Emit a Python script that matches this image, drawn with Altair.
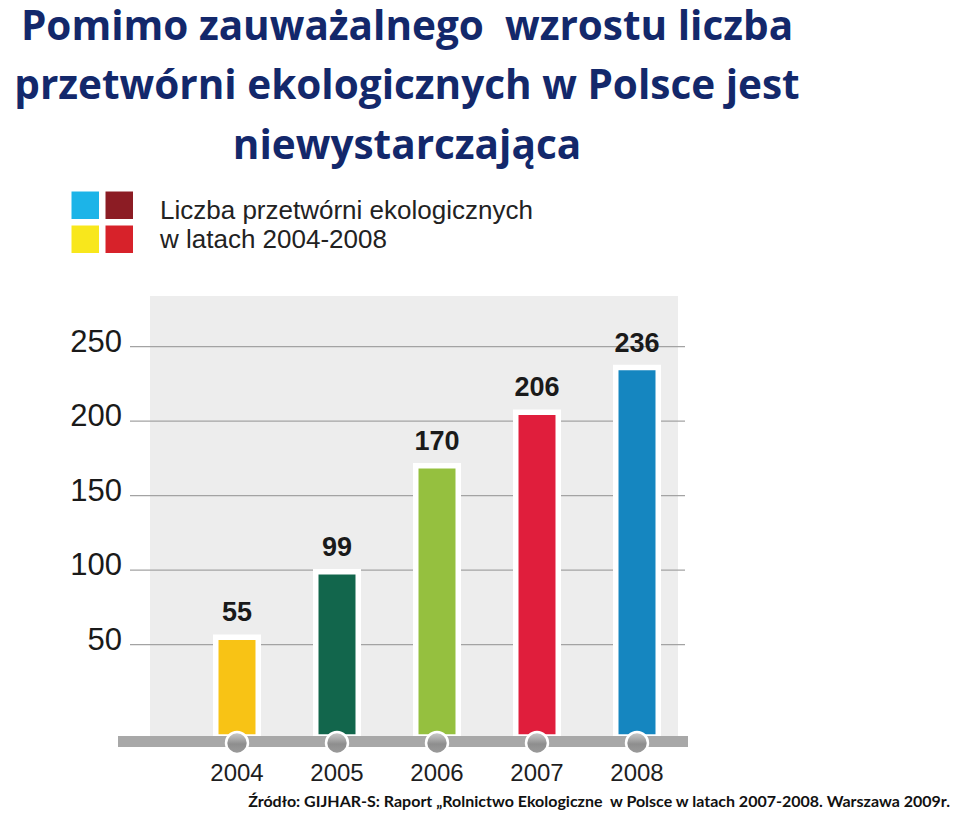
import altair as alt
import pandas as pd

# ---- data ----
years = ["2004", "2005", "2006", "2007", "2008"]
values = [55, 99, 170, 206, 236]
bar_colors = ["#f8c315", "#12664c", "#95c03f", "#e01e3c", "#1586c0"]
y_ticks = [50, 100, 150, 200, 250]
title_lines = ["Pomimo zauważalnego\u00a0 wzrostu liczba",
               "przetwórni ekologicznych w Polsce jest",
               "niewystarczająca"]
subtitle_lines = ["Liczba przetwórni ekologicznych", "w latach 2004-2008"]
logo_colors = ["#1cb4e8", "#8c1c24", "#f8e71c", "#d7222a"]
source_text = "Źródło: GIJHAR-S: Raport „Rolnictwo Ekologiczne\u00a0 w Polsce w latach 2007-2008. Warszawa 2009r."

df = pd.DataFrame({"year": years, "value": values, "color": bar_colors})
ticks_df = pd.DataFrame({"v": y_ticks})

# plot origin on page: (187, 296)
OX, OY = 187, 296
W, H = 500, 441
Y_DOMAIN = [-12, 284]

xenc = alt.X("year:N", scale=alt.Scale(paddingInner=0, paddingOuter=0), axis=None)
yscale = alt.Scale(domain=Y_DOMAIN, zero=False, nice=False)

one = pd.DataFrame({"a": [0]})

panel = alt.Chart(one).mark_rect(color="#ededed").encode(
    x=alt.value(150 - OX), x2=alt.value(678 - OX),
    y=alt.value(0), y2=alt.value(H))

grid = alt.Chart(ticks_df).mark_rule(color="#a3a3a3", strokeWidth=1.2).encode(
    y=alt.Y("v:Q", scale=yscale, axis=None),
    x=alt.value(130 - OX), x2=alt.value(685 - OX))

ylabels = alt.Chart(ticks_df).mark_text(
    font="Liberation Sans", fontSize=31, color="#1a1a1a",
    align="right", baseline="middle", dy=-4).encode(
    y=alt.Y("v:Q", scale=yscale, axis=None),
    x=alt.value(122 - OX), text="v:Q")

bars = alt.Chart(df).mark_bar(size=42.5, stroke="white", strokeWidth=5.5).encode(
    x=xenc,
    y=alt.Y("value:Q", scale=yscale, axis=None),
    y2=alt.datum(Y_DOMAIN[0]),
    fill=alt.Fill("color:N", scale=None))

labels = alt.Chart(df).mark_text(
    font="Liberation Sans", fontSize=27, fontWeight="bold", color="#1a1a1a",
    baseline="alphabetic", dy=-16).encode(
    x=xenc, y=alt.Y("value:Q", scale=yscale, axis=None), text="value:Q")

axis_bar = alt.Chart(one).mark_rect(color="#a8a8a8").encode(
    x=alt.value(118 - OX), x2=alt.value(688 - OX),
    y=alt.value(736 - OY), y2=alt.value(747 - OY))

knobs = alt.Chart(df).mark_point(
    filled=True, size=480, opacity=1, stroke="white", strokeWidth=2.5,
    fill=alt.Gradient(gradient="linear", x1=0, y1=0, x2=0, y2=1,
                      stops=[alt.GradientStop(color="#cfcfcf", offset=0),
                             alt.GradientStop(color="#8e8e8e", offset=0.55),
                             alt.GradientStop(color="#9c9c9c", offset=1)])).encode(
    x=xenc, y=alt.value(743 - OY))

year_labels = alt.Chart(df).mark_text(
    font="Liberation Sans", fontSize=24, color="#1e1e1e", baseline="alphabetic").encode(
    x=xenc, y=alt.value(781 - OY), text="year:N")

layers = [panel, grid, ylabels, bars, axis_bar, knobs, labels, year_labels]

# title lines
title_baselines = [40, 99, 159]
for line, yb in zip(title_lines, title_baselines):
    layers.append(alt.Chart(pd.DataFrame({"t": [line]})).mark_text(
        font="Open Sans", fontSize=40.5, fontWeight="bold", color="#13286b",
        align="center", baseline="alphabetic").encode(
        x=alt.value(407 - OX), y=alt.value(yb - OY), text="t:N"))

# subtitle lines
for i, line in enumerate(subtitle_lines):
    layers.append(alt.Chart(pd.DataFrame({"t": [line]})).mark_text(
        font="Liberation Sans", fontSize=26, color="#222222",
        align="left", baseline="alphabetic").encode(
        x=alt.value(160 - OX), y=alt.value(219 + 29 * i - OY), text="t:N"))

# logo squares
for i, c in enumerate(logo_colors):
    col, row = i % 2, i // 2
    x0 = 71.5 + col * 34
    y0 = 191.5 + row * 34
    layers.append(alt.Chart(one).mark_rect(color=c).encode(
        x=alt.value(x0 - OX), x2=alt.value(x0 + 27.5 - OX),
        y=alt.value(y0 - OY), y2=alt.value(y0 + 27.5 - OY)))

# source
layers.append(alt.Chart(pd.DataFrame({"t": [source_text]})).mark_text(
    font="Lato", fontSize=16, fontWeight="bold", color="#111111",
    align="right", baseline="alphabetic").encode(
    x=alt.value(950 - OX), y=alt.value(807 - OY), text="t:N"))

chart = alt.layer(*layers).properties(
    width=W, height=H,
    padding={"left": OX - 8, "top": OY - 8,
             "right": 960 - 16 - (OX - 8) - W, "bottom": 821 - 16 - (OY - 8) - H},
    autosize=alt.AutoSizeParams(type="none"),
    background="white",
).configure_view(stroke=None)

chart.save("out.html", embed_options={"renderer": "svg", "actions": False})
